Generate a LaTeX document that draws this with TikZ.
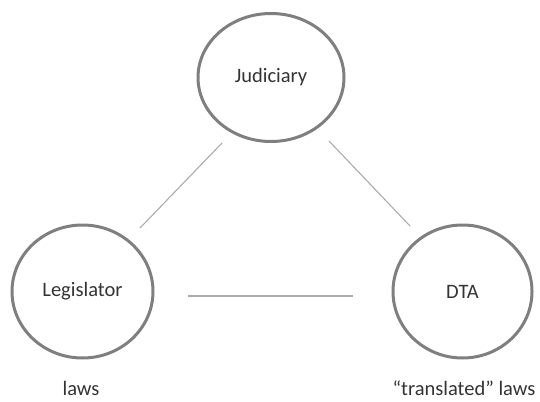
\documentclass[tikz,border=0pt]{standalone}
\usepackage{fontspec}
\setmainfont{Carlito}
\usetikzlibrary{shapes.geometric}
\definecolor{ringgray}{HTML}{7F7F7F}
\definecolor{linegray}{HTML}{ABABAB}
\definecolor{txtgray}{HTML}{333333}
\begin{document}
\begin{tikzpicture}[x=1pt,y=-1pt,
  circ/.style={ellipse, draw=ringgray, line width=3pt, inner sep=0pt, text=txtgray, font=\fontsize{20.5}{24}\selectfont},
  conn/.style={draw=linegray, line width=1.1pt},
  lbl/.style={text=txtgray, font=\fontsize{20.5}{24}\selectfont, inner sep=0pt}]
\useasboundingbox (0,0) rectangle (540,401);
\node[circ, minimum width=146pt, minimum height=128pt] (jud) at (271,77.5) {Judiciary};
\node[circ, minimum width=141pt, minimum height=133pt] (leg) at (82.5,291.5) {Legislator};
\node[circ, minimum width=139pt, minimum height=133pt] (dta) at (462.5,291.5) {DTA};
\coordinate (a1) at (222,143);
\coordinate (a2) at (140,228);
\coordinate (b1) at (329,141);
\coordinate (b2) at (410,226);
\coordinate (c1) at (188,296);
\coordinate (c2) at (353,296);
\draw[conn] (a1) -- (a2);
\draw[conn] (b1) -- (b2);
\draw[conn] (c1) -- (c2);
\node[lbl] (lawsA) at (81,388) {laws};
\node[lbl] (lawsB) at (464,388) {“translated” laws};
\end{tikzpicture}
\end{document}
